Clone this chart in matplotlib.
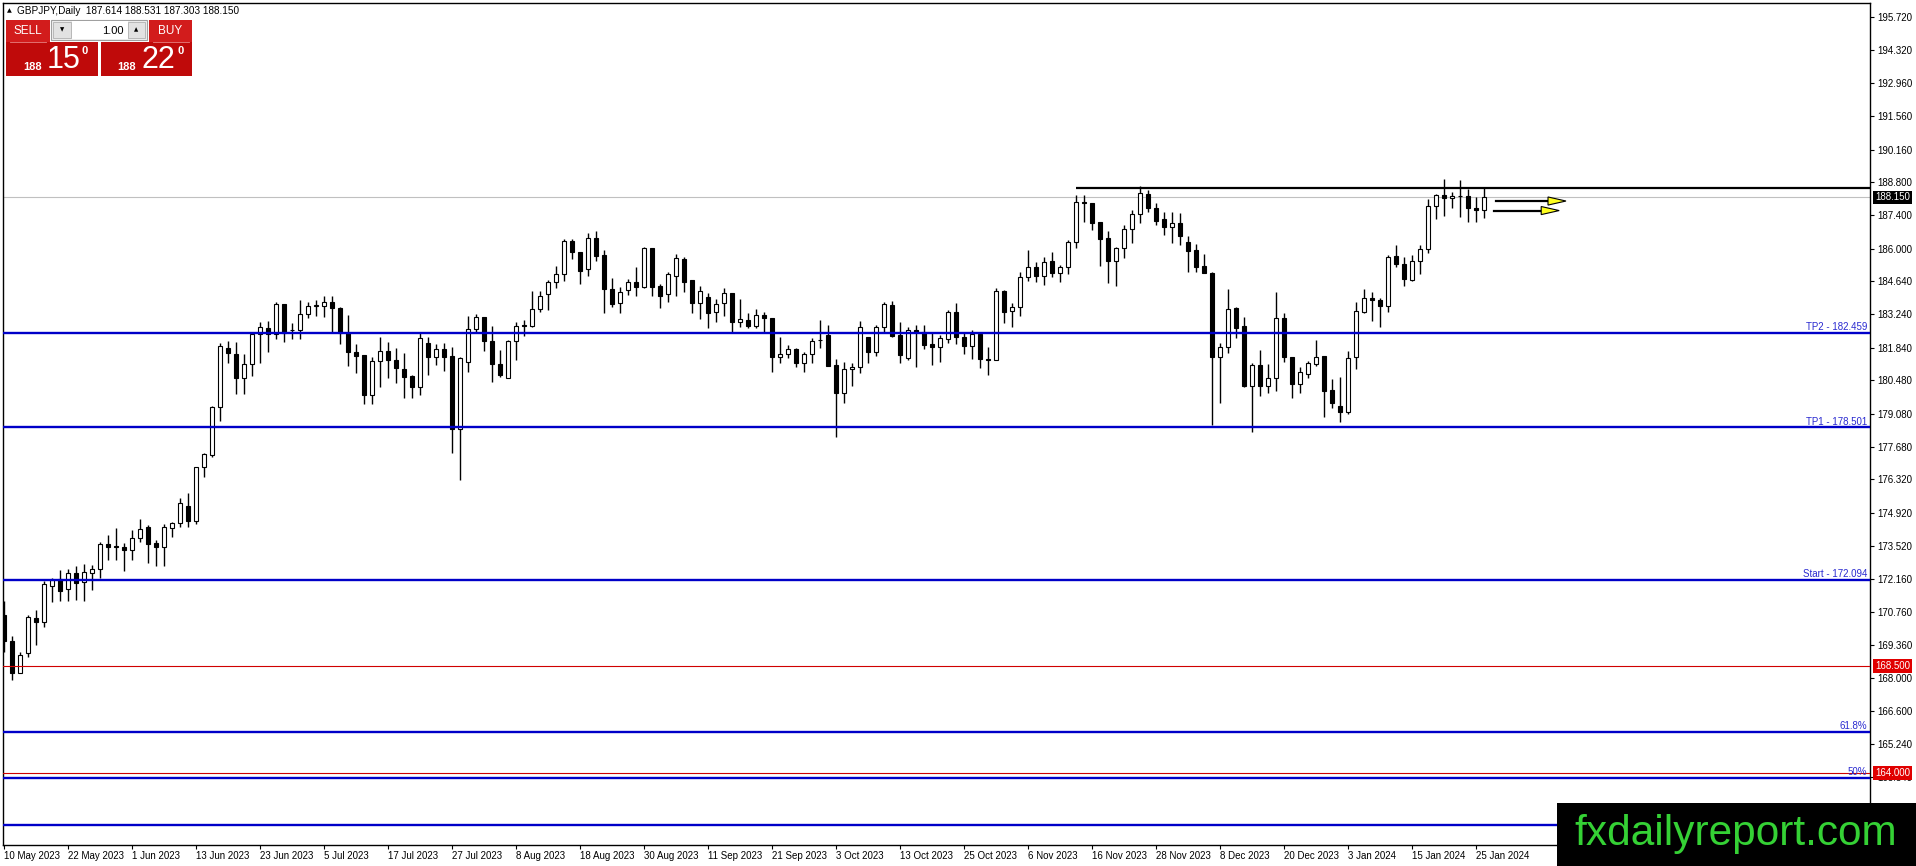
import matplotlib
matplotlib.use("Agg")
import matplotlib.pyplot as plt
from matplotlib.patches import Rectangle, Polygon
from matplotlib import font_manager

# GBPJPY daily candles (oldest first)
opens = [
    170.64, 169.56, 168.22, 169.06, 170.50, 170.32, 171.87, 172.13, 171.71, 172.39,
    172.01, 172.41, 172.55, 173.62, 173.52, 173.50, 173.34, 173.85, 174.31, 173.67,
    173.48, 174.27, 174.48, 175.21, 174.59, 176.83, 177.35, 179.38, 181.82, 181.58,
    180.56, 181.15, 182.42, 182.66, 182.42, 183.68, 182.57, 182.59, 183.25, 183.60,
    183.61, 183.78, 183.50, 182.45, 181.68, 181.54, 179.86, 181.30, 181.72, 181.33,
    180.96, 180.66, 180.21, 182.03, 181.47, 181.78, 181.50, 178.43, 181.23, 182.62,
    183.12, 182.14, 181.18, 180.56, 182.13, 182.80, 182.77, 183.46, 184.09, 184.59,
    184.93, 186.32, 185.85, 185.14, 186.46, 185.74, 184.30, 183.71, 184.25, 184.62,
    184.41, 186.02, 184.44, 184.09, 184.87, 185.57, 184.69, 183.71, 183.99, 183.33,
    183.71, 184.13, 182.94, 183.01, 182.76, 183.22, 183.08, 181.47, 181.57, 181.78,
    181.22, 181.59, 182.18, 182.38, 181.11, 179.94, 180.97, 181.03, 182.28, 181.68,
    182.70, 183.64, 182.38, 181.40, 182.59, 182.49, 182.00, 181.87, 182.21, 183.33,
    182.28, 181.93, 182.42, 181.36, 181.33, 184.23, 183.37, 183.54, 184.83, 185.22,
    184.87, 185.49, 184.97, 185.22, 186.27, 187.95, 187.90, 187.11, 186.44, 185.50,
    186.02, 186.81, 187.44, 188.28, 187.69, 187.23, 186.90, 187.07, 186.27, 185.95,
    185.28, 184.97, 181.47, 181.87, 183.53, 182.76, 180.26, 181.12, 180.26, 180.56,
    183.08, 181.45, 180.31, 180.73, 181.15, 181.50, 180.07, 179.40, 179.14, 181.47,
    183.36, 183.92, 183.85, 183.60, 185.71, 185.36, 184.69, 185.49, 185.98, 187.79,
    188.25, 188.11, 188.21, 188.20, 187.69, 187.614,
]
highs = [
    171.20, 169.76, 169.10, 170.64, 170.85, 172.04, 172.18, 172.53, 172.55, 172.67,
    172.78, 172.74, 173.71, 173.99, 174.27, 173.67, 174.20, 174.65, 174.41, 173.76,
    174.45, 174.55, 175.53, 175.74, 176.83, 177.42, 179.40, 182.06, 182.14, 182.10,
    181.58, 182.52, 182.94, 182.98, 183.78, 183.68, 182.90, 183.85, 183.78, 183.85,
    184.02, 184.02, 183.57, 183.22, 182.00, 181.54, 181.47, 182.28, 182.10, 181.82,
    181.61, 180.70, 182.49, 182.31, 181.99, 182.03, 181.89, 181.47, 183.19, 183.26,
    183.12, 182.76, 181.75, 182.17, 182.94, 183.00, 184.23, 184.23, 184.69, 185.29,
    186.41, 186.41, 185.85, 186.65, 186.74, 185.95, 184.79, 184.41, 184.72, 185.22,
    186.06, 186.02, 184.51, 185.04, 185.76, 185.64, 184.69, 184.44, 184.13, 183.89,
    184.34, 184.13, 183.89, 183.29, 183.46, 183.33, 183.08, 182.28, 181.96, 181.82,
    181.68, 182.24, 183.01, 182.80, 181.36, 181.24, 181.19, 182.97, 182.31, 182.80,
    183.78, 183.81, 182.91, 182.70, 182.80, 182.80, 182.45, 182.38, 183.43, 183.71,
    182.45, 182.59, 182.48, 181.87, 184.37, 184.27, 183.71, 185.04, 185.95, 185.46,
    185.64, 185.88, 185.32, 186.37, 188.25, 188.25, 187.90, 187.11, 186.76, 186.09,
    187.00, 187.62, 188.63, 188.46, 187.90, 187.53, 187.53, 187.48, 186.53, 186.20,
    185.77, 185.04, 182.03, 184.31, 183.57, 183.12, 181.22, 181.75, 181.15, 184.17,
    183.29, 181.47, 181.05, 181.30, 182.17, 181.50, 180.52, 180.63, 181.72, 183.75,
    184.31, 184.20, 183.92, 185.74, 186.16, 185.64, 185.74, 186.16, 188.07, 188.28,
    188.92, 188.37, 188.88, 188.49, 188.15, 188.531,
]
lows = [
    169.10, 167.91, 168.19, 168.86, 169.38, 170.12, 171.16, 171.24, 171.20, 171.27,
    171.20, 171.69, 172.18, 172.92, 172.94, 172.50, 172.94, 173.71, 172.83, 172.67,
    172.67, 173.90, 174.31, 174.34, 174.45, 176.41, 177.25, 178.79, 181.19, 179.91,
    179.91, 180.68, 181.22, 181.68, 182.20, 182.10, 182.20, 182.20, 183.08, 183.18,
    183.12, 182.52, 182.00, 181.08, 180.77, 179.49, 179.49, 180.19, 180.56, 180.35,
    179.75, 179.73, 179.87, 180.70, 181.12, 180.87, 177.42, 176.30, 180.84, 182.52,
    181.71, 180.42, 180.61, 180.56, 181.33, 182.35, 182.73, 183.36, 183.43, 184.34,
    184.65, 185.56, 184.52, 184.86, 185.49, 183.32, 183.57, 183.32, 184.06, 184.02,
    184.34, 184.03, 183.50, 183.78, 184.03, 184.20, 183.32, 183.05, 182.66, 182.91,
    183.18, 182.49, 182.73, 182.69, 182.69, 182.49, 180.82, 181.19, 181.40, 181.05,
    180.84, 181.19, 181.82, 181.10, 178.12, 179.54, 180.24, 180.80, 181.22, 181.50,
    182.52, 182.31, 181.22, 181.33, 181.05, 181.78, 181.12, 181.26, 182.06, 182.00,
    181.59, 181.38, 181.01, 180.70, 181.31, 182.87, 182.73, 183.19, 184.66, 184.59,
    184.48, 184.80, 184.59, 184.94, 186.05, 187.14, 186.79, 185.29, 184.58, 184.44,
    185.60, 186.25, 187.07, 187.55, 187.00, 186.58, 186.23, 186.16, 185.04, 185.04,
    184.97, 178.61, 179.54, 181.64, 182.24, 180.19, 178.33, 179.80, 179.96, 180.01,
    181.26, 179.75, 179.96, 180.56, 181.08, 178.96, 179.31, 178.72, 179.06, 180.96,
    183.29, 182.98, 182.73, 183.36, 185.22, 184.45, 184.66, 184.94, 185.81, 187.25,
    187.39, 187.72, 187.32, 187.11, 187.14, 187.303,
]
closes = [
    169.56, 168.22, 168.96, 170.54, 170.32, 171.92, 172.11, 171.66, 172.39, 171.99,
    172.44, 172.55, 173.62, 173.50, 173.50, 173.34, 173.85, 174.23, 173.62, 173.48,
    174.31, 174.48, 175.32, 174.59, 176.83, 177.38, 179.35, 181.92, 181.61, 180.56,
    181.15, 182.42, 182.70, 182.42, 183.68, 182.48, 182.60, 183.25, 183.61, 183.62,
    183.78, 183.50, 182.45, 181.68, 181.50, 179.86, 181.30, 181.72, 181.33, 180.98,
    180.63, 180.21, 182.24, 181.47, 181.78, 181.47, 178.43, 181.40, 182.62, 183.12,
    182.14, 181.18, 180.70, 182.13, 182.76, 182.74, 183.46, 184.02, 184.59, 184.93,
    186.32, 185.85, 185.08, 186.46, 185.71, 184.30, 183.68, 184.20, 184.62, 184.41,
    186.02, 184.41, 184.03, 184.93, 185.60, 184.62, 183.71, 184.24, 183.32, 183.67,
    184.16, 182.94, 183.04, 182.76, 183.22, 183.08, 181.47, 181.57, 181.78, 181.22,
    181.59, 182.14, 182.15, 181.10, 179.94, 180.94, 181.05, 182.70, 181.68, 182.73,
    183.67, 182.35, 181.54, 182.59, 182.52, 181.98, 181.87, 182.24, 183.33, 182.28,
    181.93, 182.42, 181.36, 181.31, 184.23, 183.36, 183.54, 184.83, 185.22, 184.87,
    185.43, 184.97, 185.22, 186.27, 187.95, 187.90, 187.07, 186.39, 185.50, 186.02,
    186.81, 187.44, 188.32, 187.69, 187.18, 186.90, 187.07, 186.55, 185.92, 185.25,
    184.97, 181.47, 181.87, 183.46, 182.69, 180.24, 181.12, 180.26, 180.56, 183.08,
    181.45, 180.31, 180.82, 181.22, 181.47, 180.05, 179.52, 179.14, 181.43, 183.40,
    183.92, 183.85, 183.60, 185.67, 185.36, 184.73, 185.49, 185.98, 187.79, 188.25,
    188.11, 188.21, 188.20, 187.69, 187.62, 188.150,
]

date_labels = [
    "10 May 2023", "22 May 2023", "1 Jun 2023", "13 Jun 2023", "23 Jun 2023",
    "5 Jul 2023", "17 Jul 2023", "27 Jul 2023", "8 Aug 2023", "18 Aug 2023",
    "30 Aug 2023", "11 Sep 2023", "21 Sep 2023", "3 Oct 2023", "13 Oct 2023",
    "25 Oct 2023", "6 Nov 2023", "16 Nov 2023", "28 Nov 2023", "8 Dec 2023",
    "20 Dec 2023", "3 Jan 2024", "15 Jan 2024", "25 Jan 2024",
]
date_step = 8

price_ticks = [195.72, 194.32, 192.96, 191.56, 190.16, 188.80, 187.40, 186.00,
               184.64, 183.24, 181.84, 180.48, 179.08, 177.68, 176.32, 174.92,
               173.52, 172.16, 170.76, 169.36, 168.00, 166.60, 165.24, 163.84]

# horizontal levels drawn on the chart
blue_levels = [182.459, 178.501, 172.094, 165.72, 163.78, 161.82]
blue_labels = ["TP2 - 182.459", "TP1 - 178.501", "Start - 172.094", "61.8%", "50%", ""]
red_levels = [168.5, 164.0]
bid_price = 188.150
resistance = 188.53
resistance_start = 134
arrow_levels = [188.00, 187.60]
arrow_starts = [186.5, 186.2]
arrow_tips = [195.25, 194.4]

header = "GBPJPY,Daily  187.614 188.531 187.303 188.150"

names = {f.name for f in font_manager.fontManager.ttflist}
base_font = "Liberation Sans" if "Liberation Sans" in names else "DejaVu Sans"
plt.rcParams["font.family"] = [base_font, "DejaVu Sans"]

W, H = 1916, 866
fig = plt.figure(figsize=(W / 100, H / 100), dpi=100)
fig.patch.set_facecolor("white")

# main price pane (pixel box 3..1870 x 3..845)
ax = fig.add_axes([3 / W, (H - 845) / H, (1870 - 3) / W, (845 - 3) / H])
ax.set_xlim(-0.125, 233.25)
ax.set_ylim(160.985, 196.307)

n = len(opens)
xs = list(range(n))
ax.vlines(xs, lows, highs, color="black", linewidth=1.0, zorder=3)
for i in xs:
    o, c = opens[i], closes[i]
    bull = c >= o
    bottom = min(o, c)
    height = max(abs(c - o), 0.01)
    ax.add_patch(Rectangle((i - 0.29, bottom), 0.58, height,
                           facecolor="white" if bull else "black",
                           edgecolor="black", linewidth=0.8, zorder=4))

ax.axhline(bid_price, color="#c0c0c0", linewidth=0.8, zorder=1)

for lvl, lab in zip(blue_levels, blue_labels):
    ax.axhline(lvl, color="#0000c8", linewidth=1.7, zorder=5)
    if lab:
        ax.text(0.9985, lvl + 0.04, lab, transform=ax.get_yaxis_transform(),
                ha="right", va="bottom", fontsize=7, color="#2a2ad0", zorder=6)
for lvl in red_levels:
    ax.axhline(lvl, color="#d00000", linewidth=0.8, zorder=5)

ax.plot([resistance_start, 233.25], [resistance, resistance], color="black",
        linewidth=1.6, zorder=5, solid_capstyle="butt")

for lvl, x0, x1 in zip(arrow_levels, arrow_starts, arrow_tips):
    head = 2.25
    ax.plot([x0, x1 - head], [lvl, lvl], color="black", linewidth=1.6, zorder=6)
    ax.add_patch(Polygon([[x1 - head, lvl + 0.17], [x1 - head, lvl - 0.17], [x1, lvl]],
                         closed=True, facecolor="#ffff20", edgecolor="black",
                         linewidth=0.8, zorder=7))

# axes styling
for s in ax.spines.values():
    s.set_color("black")
    s.set_linewidth(1.0)
ax.yaxis.tick_right()
ax.set_yticks(price_ticks)
ax.set_yticklabels([f"{p:.3f}" for p in price_ticks])
ax.tick_params(axis="y", length=3, width=0.8, pad=2, labelsize=7, colors="black")
ax.set_xticks([i * date_step for i in range(len(date_labels))])
ax.set_xticklabels(date_labels, ha="left")
ax.tick_params(axis="x", length=3, width=0.8, pad=1.5, labelsize=7, colors="black")

# price tags on the right scale
tags = [(bid_price, "black"), (red_levels[0], "#e00000"), (red_levels[1], "#e00000")]
for val, col in tags:
    ax.text(1.0028, val, f"{val:.3f}", transform=ax.get_yaxis_transform(),
            ha="left", va="center", fontsize=7, color="white", zorder=10,
            clip_on=False,
            bbox=dict(boxstyle="square,pad=0.2", facecolor=col, edgecolor="none"))

# overlay in pixel coordinates: trade panel, header, watermark
ov = fig.add_axes([0, 0, 1, 1])
ov.set_xlim(0, W)
ov.set_ylim(H, 0)
ov.axis("off")
ov.patch.set_visible(False)
ov.set_zorder(10)

ov.text(9.5, 10.5, "\u25b2", fontsize=4.5, ha="center", va="center",
        family="DejaVu Sans")
ov.text(17, 10.5, header, fontsize=7.2, ha="left", va="center")

red_top = "#d21c1c"
red_low = "#bf0a0a"
ov.add_patch(Rectangle((6, 20), 44, 22, facecolor=red_top, edgecolor="none"))
ov.add_patch(Rectangle((149, 20), 43, 22, facecolor=red_top, edgecolor="none"))
ov.plot([10, 46], [41.5, 41.5], color="#e88080", linewidth=0.6)
ov.plot([153, 189], [41.5, 41.5], color="#e88080", linewidth=0.6)
ov.text(28, 31, "SELL", color="white", fontsize=8.5, ha="center", va="center")
ov.text(170.5, 31, "BUY", color="white", fontsize=8.5, ha="center", va="center")

ov.add_patch(Rectangle((51, 20), 96, 20, facecolor="#f0f0f0", edgecolor="#a0a0a0",
                       linewidth=0.8))
ov.add_patch(Rectangle((53, 22), 18, 16, facecolor="#e2e2e2", edgecolor="#b0b0b0",
                       linewidth=0.6))
ov.add_patch(Rectangle((72, 21), 56, 18, facecolor="white", edgecolor="none"))
ov.add_patch(Rectangle((128, 22), 17, 16, facecolor="#e2e2e2", edgecolor="#b0b0b0",
                       linewidth=0.6))
ov.text(62, 30, "\u25bc", fontsize=4, ha="center", va="center", family="DejaVu Sans")
ov.text(136.5, 30, "\u25b2", fontsize=4, ha="center", va="center", family="DejaVu Sans")
ov.text(124, 30.5, "1.00", fontsize=8, ha="right", va="center")

ov.add_patch(Rectangle((6, 42), 92, 34, facecolor=red_low, edgecolor="none"))
ov.add_patch(Rectangle((101, 42), 91, 34, facecolor=red_low, edgecolor="none"))
ov.text(33, 67, "188", color="white", fontsize=8, weight="bold", ha="center",
        va="center")
ov.text(64, 60, "15", color="white", fontsize=22, ha="center", va="center")
ov.text(85, 51, "0", color="white", fontsize=8, weight="bold", ha="center",
        va="center")
ov.text(127, 67, "188", color="white", fontsize=8, weight="bold", ha="center",
        va="center")
ov.text(158.5, 60, "22", color="white", fontsize=22, ha="center", va="center")
ov.text(181, 51, "0", color="white", fontsize=8, weight="bold", ha="center",
        va="center")

ov.add_patch(Rectangle((1557, 803), W - 1557, H - 803, facecolor="black",
                       edgecolor="none"))
ov.text(1736, 845, "fxdailyreport.com", color="#35d135", fontsize=30.5,
        family=base_font, ha="center", va="baseline")

fig.savefig("out.png", dpi=100, facecolor="white")
